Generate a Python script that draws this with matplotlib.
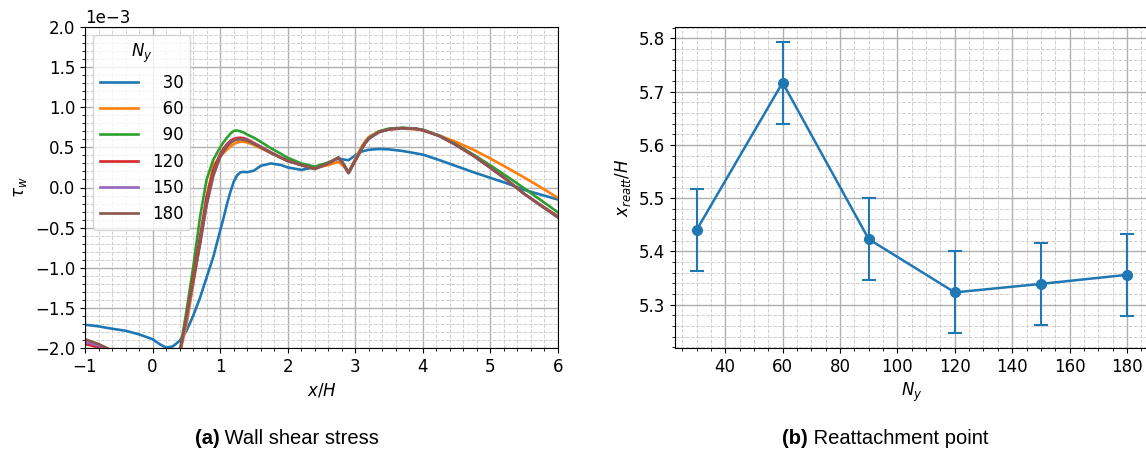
import matplotlib
matplotlib.use('Agg')
import matplotlib.pyplot as plt
from matplotlib.ticker import MultipleLocator
import numpy as np

# ---------------- data: (a) wall shear stress (units of 1e-3) ----------------
x_pos = [-1.0, -0.8, -0.6, -0.4, -0.2, 0.0, 0.1, 0.2, 0.3, 0.4,
         0.5, 0.6, 0.7, 0.8, 0.9, 1.0, 1.05, 1.1, 1.15, 1.2,
         1.25, 1.3, 1.35, 1.4, 1.5, 1.6, 1.75, 1.9, 2.0, 2.2,
         2.4, 2.6, 2.75, 2.82, 2.9, 3.0, 3.05, 3.1, 3.15, 3.2,
         3.35, 3.5, 3.7, 3.9, 4.0, 4.25, 4.5, 4.75, 5.0, 5.25,
         5.5, 5.75, 6.0]

tau_30 = [-1.71, -1.73, -1.76, -1.785, -1.83, -1.89, -1.95, -1.995, -1.98, -1.91,
          -1.79, -1.60, -1.38, -1.12, -0.86, -0.54, -0.38, -0.21, -0.06, 0.07,
          0.15, 0.19, 0.195, 0.19, 0.21, 0.27, 0.30, 0.28, 0.25, 0.22,
          0.25, 0.31, 0.36, 0.35, 0.34, 0.40, 0.43, 0.45, 0.46, 0.47,
          0.48, 0.475, 0.455, 0.425, 0.41, 0.34, 0.265, 0.19, 0.12, 0.05,
          -0.03, -0.09, -0.15]

tau_60 = [-1.90, -1.97, -2.05, -2.15, -2.25, -2.30, -2.30, -2.28, -2.20, -2.08,
          -1.72, -1.22, -0.70, -0.12, 0.28, 0.38, 0.43, 0.47, 0.51, 0.54,
          0.56, 0.57, 0.57, 0.56, 0.53, 0.49, 0.43, 0.37, 0.33, 0.28,
          0.24, 0.28, 0.32, 0.27, 0.19, 0.36, 0.44, 0.52, 0.58, 0.63,
          0.70, 0.725, 0.735, 0.725, 0.71, 0.645, 0.565, 0.47, 0.36, 0.245,
          0.125, 0.0, -0.13]

tau_90 = [-1.93, -2.00, -2.08, -2.18, -2.27, -2.32, -2.33, -2.30, -2.20, -2.05,
          -1.55, -1.00, -0.38, 0.10, 0.35, 0.50, 0.565, 0.62, 0.67, 0.705,
          0.71, 0.70, 0.685, 0.66, 0.62, 0.57, 0.49, 0.42, 0.37, 0.30,
          0.26, 0.31, 0.37, 0.30, 0.19, 0.34, 0.42, 0.50, 0.565, 0.62,
          0.70, 0.735, 0.745, 0.735, 0.72, 0.645, 0.535, 0.41, 0.275, 0.135,
          -0.01, -0.16, -0.31]

tau_120 = [-1.95, -1.99, -2.08, -2.20, -2.28, -2.33, -2.34, -2.30, -2.22, -2.08,
           -1.62, -1.12, -0.62, -0.12, 0.22, 0.42, 0.485, 0.54, 0.58, 0.605,
           0.617, 0.62, 0.615, 0.60, 0.555, 0.51, 0.44, 0.375, 0.335, 0.28,
           0.235, 0.30, 0.37, 0.30, 0.18, 0.335, 0.41, 0.49, 0.555, 0.61,
           0.69, 0.725, 0.74, 0.73, 0.715, 0.64, 0.525, 0.395, 0.245, 0.09,
           -0.08, -0.22, -0.36]

tau_150 = [-1.92, -1.97, -2.05, -2.15, -2.24, -2.30, -2.31, -2.29, -2.21, -2.08,
           -1.65, -1.18, -0.70, -0.20, 0.16, 0.39, 0.46, 0.52, 0.56, 0.59,
           0.60, 0.605, 0.60, 0.59, 0.545, 0.505, 0.435, 0.37, 0.33, 0.28,
           0.23, 0.30, 0.375, 0.30, 0.18, 0.335, 0.41, 0.49, 0.555, 0.61,
           0.69, 0.725, 0.74, 0.73, 0.715, 0.64, 0.525, 0.395, 0.245, 0.09,
           -0.08, -0.225, -0.37]

tau_180 = [-1.89, -1.95, -2.03, -2.13, -2.22, -2.28, -2.30, -2.28, -2.20, -2.06,
           -1.62, -1.17, -0.72, -0.22, 0.15, 0.38, 0.45, 0.51, 0.555, 0.585,
           0.597, 0.60, 0.595, 0.585, 0.545, 0.50, 0.43, 0.37, 0.33, 0.28,
           0.23, 0.30, 0.375, 0.30, 0.18, 0.335, 0.41, 0.49, 0.555, 0.61,
           0.69, 0.725, 0.74, 0.73, 0.715, 0.64, 0.525, 0.395, 0.245, 0.09,
           -0.08, -0.23, -0.375]

series_labels = ['\u200730', '\u200760', '\u200790', '120', '150', '180']
series_colors = ['#1f77b4', '#ff7f0e', '#2ca02c', '#d62728', '#9467bd', '#8c564b']

# ---------------- data: (b) reattachment point ----------------
Ny = [30, 60, 90, 120, 150, 180]
x_reatt = [5.440, 5.717, 5.423, 5.323, 5.339, 5.356]
x_reatt_err = [0.077, 0.077, 0.077, 0.077, 0.077, 0.077]

# ---------------- figure ----------------
plt.rcParams['font.size'] = 12
plt.rcParams['mathtext.fontset'] = 'dejavusans'

W, H = 1146, 455
fig = plt.figure(figsize=(W / 100, H / 100), dpi=100)
ax1 = fig.add_axes([85 / W, 1 - 348 / H, 473 / W, 321 / H])
ax2 = fig.add_axes([675 / W, 1 - 348 / H, 473.5 / W, 321 / H])


def style_grid(ax):
    ax.set_axisbelow(True)
    ax.grid(which='major', color='#b0b0b0', lw=1.0, ls='-')
    ax.grid(which='minor', color='#cfcfcf', lw=0.7, ls='--')


series = [tau_30, tau_60, tau_90, tau_120, tau_150, tau_180]
for lab, vals, c in zip(series_labels, series, series_colors):
    ax1.plot(x_pos, np.array(vals) * 1e-3, color=c, lw=1.9, label=lab)

ax1.set_xlim(-1, 6)
ax1.set_ylim(-2e-3, 2e-3)
ax1.xaxis.set_major_locator(MultipleLocator(1))
ax1.xaxis.set_minor_locator(MultipleLocator(0.2))
ax1.yaxis.set_major_locator(MultipleLocator(0.5e-3))
ax1.yaxis.set_minor_locator(MultipleLocator(0.1e-3))
ax1.ticklabel_format(axis='y', style='sci', scilimits=(0, 0))
style_grid(ax1)
ax1.set_xlabel('$x/H$')
ax1.set_ylabel(r'$\tau_w$')
leg = ax1.legend(title='$N_y$', loc='upper left', fontsize=12, title_fontsize=12,
                 handlelength=2.3)

ax2.errorbar(Ny, x_reatt, yerr=x_reatt_err, fmt='-o', color='#1f77b4', lw=1.8,
             ms=7, capsize=5, capthick=1.5, elinewidth=1.5)
ax2.xaxis.set_major_locator(MultipleLocator(20))
ax2.xaxis.set_minor_locator(MultipleLocator(5))
ax2.yaxis.set_major_locator(MultipleLocator(0.1))
ax2.yaxis.set_minor_locator(MultipleLocator(0.02))
style_grid(ax2)
ax2.set_xlabel('$N_y$')
ax2.set_ylabel(r'$x_{reatt}/H$')

# ---------------- captions ----------------
cap_font = 'Liberation Sans'
cap_size = 14.5
cap_y = 1 - 438 / H


def caption(center_px, tag, rest):
    t1 = fig.text(0, cap_y, tag, fontfamily=cap_font, fontsize=cap_size,
                  fontweight='bold', va='center', ha='left')
    t2 = fig.text(0, cap_y, rest, fontfamily=cap_font, fontsize=cap_size,
                  va='center', ha='left')
    fig.canvas.draw()
    r = fig.canvas.get_renderer()
    w1 = t1.get_window_extent(r).width
    w2 = t2.get_window_extent(r).width
    left = center_px - (w1 + w2) / 2
    t1.set_x(left / W)
    t2.set_x((left + w1) / W)


caption(287, '(a)', ' Wall shear stress')
caption(885, '(b)', ' Reattachment point')

fig.savefig('out.png', dpi=100)
